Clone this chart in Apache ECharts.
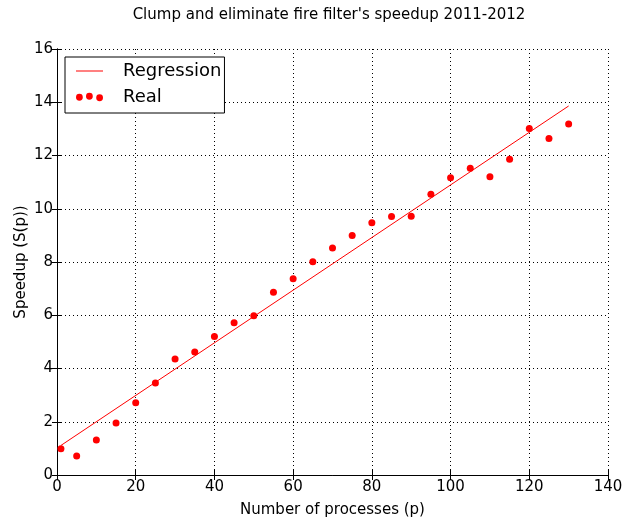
<!DOCTYPE html>
<html><head><meta charset="utf-8">
<script src="https://cdn.jsdelivr.net/npm/echarts@6/dist/echarts.min.js"></script>
<style>html,body{margin:0;padding:0;background:#fff}#c{width:641px;height:518px}</style>
</head><body><div id="c"></div>
<script>
const processes = [1,5,10,15,20,25,30,35,40,45,50,55,60,65,70,75,80,85,90,95,100,105,110,115,120,125,130];
const speedup = [0.99,0.71,1.31,1.95,2.71,3.46,4.36,4.62,5.2,5.72,5.98,6.86,7.37,8.01,8.53,9.0,9.47,9.71,9.72,10.54,11.16,11.52,11.2,11.86,13.01,12.64,13.18];
const regressionX = [1,130];
const regressionY = [1.11,13.86];
const titleText = "Clump and eliminate fire filter's speedup 2011-2012";

const FONT = 'DejaVu Sans';
const FS = 15;
const chart = echarts.init(document.getElementById('c'), null, {renderer:'canvas'});
const axisCommon = {
  axisLine:{show:true,lineStyle:{color:'#000',width:1}},
  axisTick:{show:true,inside:true,length:5,lineStyle:{color:'#000'}},
};
chart.setOption({
  animation:false,
  backgroundColor:'#fff',
  title:{text:titleText,left:324,textAlign:'center',top:3,textStyle:{fontFamily:FONT,fontSize:FS,fontWeight:'normal',color:'#000'}},
  grid:{left:57,right:33,top:49,bottom:43,show:false,containLabel:false,outerBoundsMode:'none'},
  legend:{
    orient:'vertical',left:65,top:57,
    backgroundColor:'#fff',borderColor:'#000',borderWidth:1,borderRadius:0,
    padding:[4,3,6,11],itemGap:6,itemWidth:27,itemHeight:14,
    textStyle:{fontFamily:FONT,fontSize:18,color:'#000',lineHeight:20,padding:[0,0,0,15]},
    data:[
      {name:'Regression',icon:'path://M0,6.5L27,6.5L27,7.5L0,7.5Z',itemStyle:{color:'#ff0000',borderWidth:0},lineStyle:{color:'#ff0000',width:0}},
      {name:'Real',icon:'path://M0,8a3.4,3.4 0 1,0 6.8,0a3.4,3.4 0 1,0 -6.8,0ZM10,7a3.4,3.4 0 1,0 6.8,0a3.4,3.4 0 1,0 -6.8,0ZM20.2,8.5a3.4,3.4 0 1,0 6.8,0a3.4,3.4 0 1,0 -6.8,0Z',itemStyle:{color:'#ff0000',borderWidth:0}}
    ]
  },
  xAxis:[
    Object.assign({type:'value',min:0,max:140,interval:20,position:'bottom',
      name:'Number of processes (p)',nameLocation:'middle',nameGap:28,nameMoveOverlap:false,
      nameTextStyle:{fontFamily:FONT,fontSize:FS,color:'#000'},
      axisLabel:{fontFamily:FONT,fontSize:FS,color:'#000',margin:5},
      splitLine:{show:true,lineStyle:{color:'#000',type:[1,3],width:1}}},axisCommon),
    Object.assign({type:'value',min:0,max:140,interval:20,position:'top',
      axisLabel:{show:false},splitLine:{show:false}},axisCommon)
  ],
  yAxis:[
    Object.assign({type:'value',min:0,max:16,interval:2,position:'left',
      name:'Speedup (S(p))',nameLocation:'middle',nameGap:28,nameRotate:90,nameMoveOverlap:false,
      nameTextStyle:{fontFamily:FONT,fontSize:FS,color:'#000'},
      axisLabel:{fontFamily:FONT,fontSize:FS,color:'#000',margin:4},
      splitLine:{show:true,lineStyle:{color:'#000',type:[1,3],width:1}}},axisCommon),
    Object.assign({type:'value',min:0,max:16,interval:2,position:'right',
      axisLabel:{show:false},splitLine:{show:false}},axisCommon)
  ],
  series:[
    {name:'Regression',type:'line',data:regressionX.map((x,i)=>[x,regressionY[i]]),
     showSymbol:false,symbol:'none',lineStyle:{color:'#ff0000',width:1},itemStyle:{color:'#ff0000'},z:3},
    {name:'Real',type:'scatter',data:processes.map((x,i)=>[x,speedup[i]]),
     symbol:'circle',symbolSize:7,itemStyle:{color:'#ff0000',opacity:1},z:4}
  ]
});
</script></body></html>
